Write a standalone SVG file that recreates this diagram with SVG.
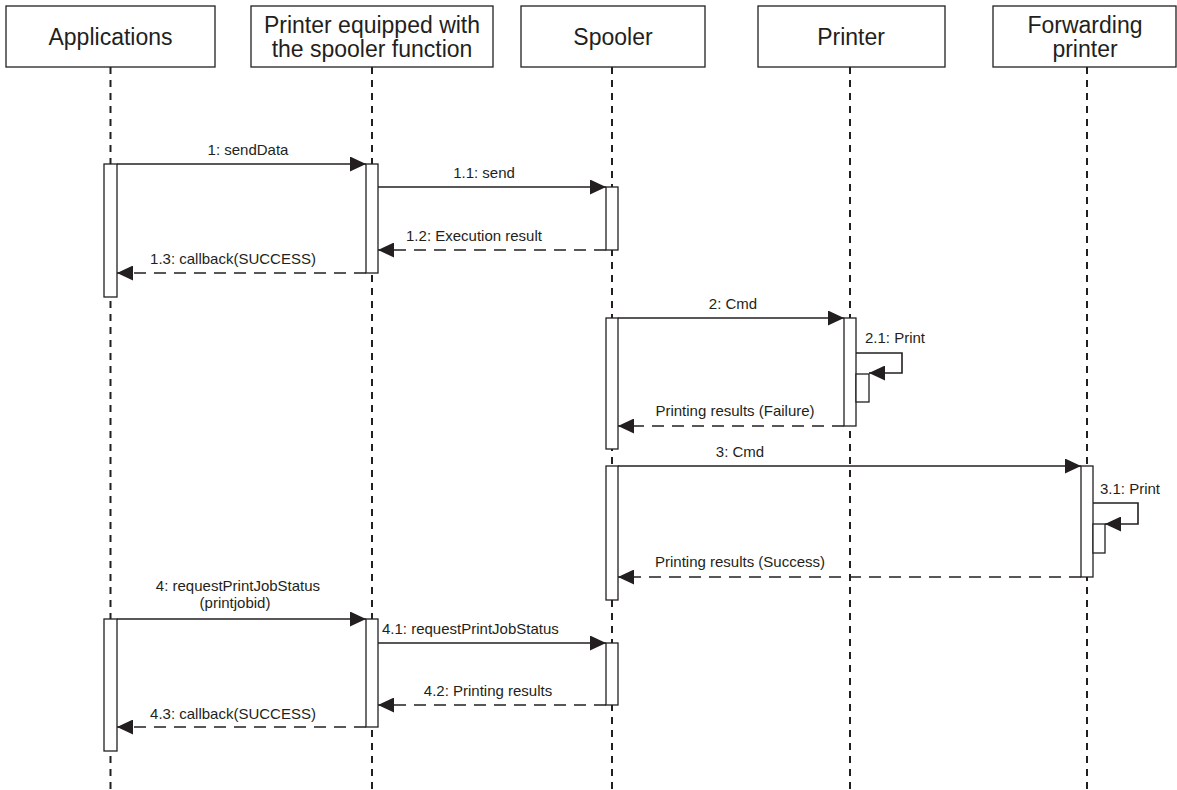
<svg xmlns="http://www.w3.org/2000/svg" width="1177" height="790" viewBox="0 0 1177 790">
<style>
.box{fill:#fff;stroke:#231f20;stroke-width:1.3}
.hdr{font-family:"Liberation Sans",Arial,sans-serif;font-size:23px;fill:#231f20;text-anchor:middle}
.life{stroke:#231f20;stroke-width:2;stroke-dasharray:7,6;fill:none}
.bar{fill:#fff;stroke:#231f20;stroke-width:1.3}
.msg{stroke:#231f20;stroke-width:1.6;fill:none;marker-end:url(#ah)}
.ret{stroke:#231f20;stroke-width:1.6;fill:none;stroke-dasharray:12,8;marker-end:url(#ah)}
.lbl{font-family:"Liberation Sans",Arial,sans-serif;font-size:15px;fill:#231f20;text-anchor:middle}
.lbs{font-family:"Liberation Sans",Arial,sans-serif;font-size:15px;fill:#231f20;text-anchor:start}
</style>
<defs>
<marker id="ah" markerUnits="userSpaceOnUse" markerWidth="16" markerHeight="15" refX="16" refY="7.5" orient="auto">
<path d="M0,0 L16,7.5 L0,15 z" fill="#231f20"/>
</marker>
</defs>
<g id="lifelines">
<line class="life" x1="110.5" y1="67" x2="110.5" y2="790"/>
<line class="life" x1="372" y1="67" x2="372" y2="790"/>
<line class="life" x1="612" y1="67" x2="612" y2="790"/>
<line class="life" x1="850" y1="67" x2="850" y2="790"/>
<line class="life" x1="1087" y1="67" x2="1087" y2="790"/>
</g>
<g id="applications">
<rect class="box" x="6" y="6" width="209" height="61"/>
<text class="hdr" x="110.5" y="45">Applications</text>
</g>
<g id="printer-spooler">
<rect class="box" x="251" y="6" width="242" height="61"/>
<text class="hdr" x="372" y="33">Printer equipped with</text>
<text class="hdr" x="372" y="57">the spooler function</text>
</g>
<g id="spooler">
<rect class="box" x="521" y="6" width="184" height="61"/>
<text class="hdr" x="613" y="45">Spooler</text>
</g>
<g id="printer">
<rect class="box" x="758" y="6" width="187" height="61"/>
<text class="hdr" x="851" y="45">Printer</text>
</g>
<g id="forwarding-printer">
<rect class="box" x="993" y="6" width="183" height="61"/>
<text class="hdr" x="1085" y="33">Forwarding</text>
<text class="hdr" x="1085" y="57">printer</text>
</g>
<g id="activations">
<rect class="bar" x="104" y="164" width="13" height="133"/>
<rect class="bar" x="366" y="164" width="12" height="109"/>
<rect class="bar" x="606" y="187" width="12" height="63"/>
<rect class="bar" x="606" y="318" width="12" height="131"/>
<rect class="bar" x="844" y="318" width="12" height="108"/>
<rect class="bar" x="856" y="374" width="13" height="28"/>
<rect class="bar" x="606" y="466" width="12" height="134"/>
<rect class="bar" x="1081" y="466" width="12" height="111"/>
<rect class="bar" x="1093" y="524" width="12" height="29"/>
<rect class="bar" x="104" y="619" width="13" height="132"/>
<rect class="bar" x="366" y="619" width="12" height="108"/>
<rect class="bar" x="606" y="643" width="12" height="62"/>
</g>
<g id="connectors">
<line class="msg" x1="117" y1="164" x2="366" y2="164"/>
<line class="msg" x1="378" y1="187" x2="606" y2="187"/>
<line class="ret" x1="606" y1="250" x2="378" y2="250"/>
<line class="ret" x1="366" y1="273" x2="117" y2="273"/>
<line class="msg" x1="618" y1="318" x2="844" y2="318"/>
<polyline class="msg" points="856,353 902,353 902,373 869,373"/>
<line class="ret" x1="844" y1="426" x2="618" y2="426"/>
<line class="msg" x1="618" y1="466" x2="1081" y2="466"/>
<polyline class="msg" points="1093,503 1138,503 1138,524 1105,524"/>
<line class="ret" x1="1081" y1="577" x2="618" y2="577"/>
<line class="msg" x1="117" y1="619" x2="366" y2="619"/>
<line class="msg" x1="378" y1="643" x2="606" y2="643"/>
<line class="ret" x1="606" y1="705" x2="378" y2="705"/>
<line class="ret" x1="366" y1="727" x2="117" y2="727"/>
</g>
<g id="labels">
<text class="lbl" x="248" y="155">1: sendData</text>
<text class="lbl" x="484" y="178">1.1: send</text>
<text class="lbl" x="474" y="241">1.2: Execution result</text>
<text class="lbl" x="233" y="264">1.3: callback(SUCCESS)</text>
<text class="lbl" x="733" y="309">2: Cmd</text>
<text class="lbs" x="865" y="343">2.1: Print</text>
<text class="lbl" x="735" y="416">Printing results (Failure)</text>
<text class="lbl" x="740" y="457">3: Cmd</text>
<text class="lbs" x="1100" y="494">3.1: Print</text>
<text class="lbl" x="740" y="567">Printing results (Success)</text>
<text class="lbl" x="238" y="591">4: requestPrintJobStatus</text>
<text class="lbl" x="235" y="608">(printjobid)</text>
<text class="lbs" x="382" y="634">4.1: requestPrintJobStatus</text>
<text class="lbl" x="488" y="696">4.2: Printing results</text>
<text class="lbl" x="233" y="719">4.3: callback(SUCCESS)</text>
</g>
</svg>
